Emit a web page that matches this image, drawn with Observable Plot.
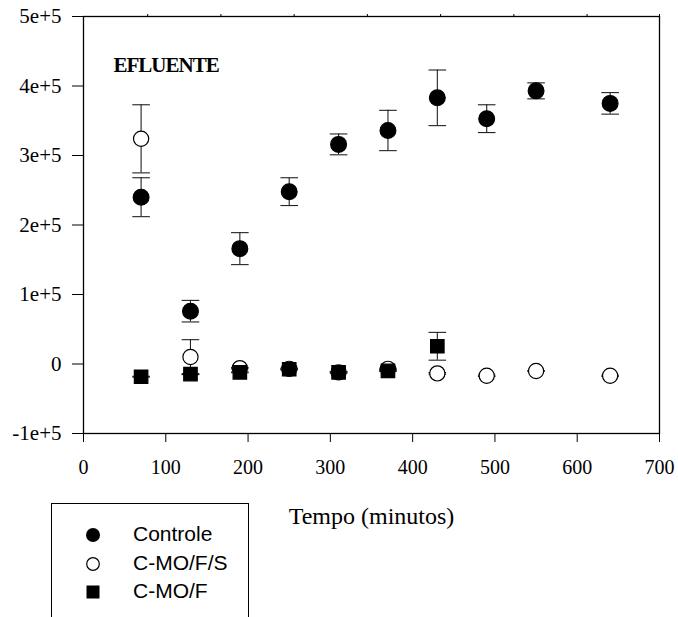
<!DOCTYPE html>
<html>
<head>
<meta charset="utf-8">
<script src="https://cdn.jsdelivr.net/npm/d3@7"></script>
<script src="https://cdn.jsdelivr.net/npm/@observablehq/plot@0.6"></script>
<style>
  html, body { margin: 0; padding: 0; background: #fff; overflow: hidden; }
  #wrap { position: relative; width: 678px; height: 617px; }
  #legend { position: absolute; left: 51px; top: 503px; width: 196px; height: 140px;
            border: 1.3px solid #000; border-bottom: none; background: #fff; }
  #legend .row { position: absolute; left: 0; height: 20px; }
  #legend svg { position: absolute; left: 31px; top: 0; }
  #legend span { position: absolute; left: 81px; top: -3px; font-family: "Liberation Sans", Arial, sans-serif;
                 font-size: 21px; white-space: nowrap; color: #000; }
</style>
</head>
<body>
<div id="wrap"></div>
<script>
// ---- data ----
const times = [70, 130, 190, 250, 310, 370, 430, 490, 550, 640];

const controle    = [2.40e5, 0.76e5, 1.66e5, 2.48e5, 3.16e5, 3.36e5, 3.83e5, 3.53e5, 3.93e5, 3.75e5];
const controleErr = [0.28e5, 0.155e5, 0.23e5, 0.20e5, 0.15e5, 0.29e5, 0.40e5, 0.20e5, 0.115e5, 0.155e5];

const cmofs    = [3.24e5, 0.10e5, -0.06e5, -0.07e5, -0.12e5, -0.07e5, -0.135e5, -0.17e5, -0.10e5, -0.17e5];
const cmofsErr = [0.49e5, 0.25e5, 0.01e5, 0.01e5, 0.01e5, 0.01e5, 0.012e5, 0.01e5, 0.005e5, 0.01e5];

const cmofTimes = [70, 130, 190, 250, 310, 370, 430];
const cmof      = [-0.183e5, -0.145e5, -0.12e5, -0.075e5, -0.12e5, -0.10e5, 0.255e5];
const cmofErr   = [0.006e5, 0.008e5, 0.006e5, 0.008e5, 0.008e5, 0.008e5, 0.20e5];

const seriesNames = ["Controle", "C-MO/F/S", "C-MO/F"];

const xTicks = [0, 100, 200, 300, 400, 500, 600, 700];
const yTicks = [-1e5, 0, 1e5, 2e5, 3e5, 4e5, 5e5];
const yTickLabels = ["-1e+5", "0", "1e+5", "2e+5", "3e+5", "4e+5", "5e+5"];
const topTicks = [78, 167, 256, 345, 434, 523, 612, 700];
const xLabel = "Tempo (minutos)";
const panelLabel = "EFLUENTE";

// ---- build tables ----
function rows(ts, vs, es) { return ts.map((t, i) => ({t, v: vs[i], e: es[i]})); }
const series = [
  {name: seriesNames[0], data: rows(times, controle, controleErr), symbol: "circle", fill: "#000", r: 7.9},
  {name: seriesNames[1], data: rows(times, cmofs, cmofsErr), symbol: "circle", fill: "#fff", r: 7.6},
  {name: seriesNames[2], data: rows(cmofTimes, cmof, cmofErr), symbol: "square", fill: "#000", r: 7.6}
];

const hline = {
  draw(ctx, size) { const w = Math.sqrt(size / Math.PI); ctx.moveTo(-w, 0); ctx.lineTo(w, 0); }
};

const marks = [];
for (const s of series) {
  marks.push(Plot.ruleX(s.data, {x: "t", y1: d => d.v - d.e, y2: d => d.v + d.e, stroke: "#222", strokeWidth: 1.1}));
  marks.push(Plot.dot(s.data, {x: "t", y: d => d.v + d.e, symbol: hline, r: 8.8, stroke: "#222", strokeWidth: 1.1, fill: "none"}));
  marks.push(Plot.dot(s.data, {x: "t", y: d => d.v - d.e, symbol: hline, r: 8.8, stroke: "#222", strokeWidth: 1.1, fill: "none"}));
  marks.push(Plot.dot(s.data, {x: "t", y: "v", symbol: s.symbol, r: s.r, fill: s.fill, stroke: "#000", strokeWidth: 1.2}));
}

const chart = Plot.plot({
  width: 678,
  height: 617,
  marginLeft: 83,
  marginRight: 19,
  marginTop: 16,
  marginBottom: 184,
  style: {fontFamily: "'Liberation Serif', 'Times New Roman', serif", fontSize: "20px", color: "#000", background: "transparent", overflow: "visible"},
  x: {domain: [0, 700]},
  y: {domain: [-1e5, 5e5]},
  marks: [
    Plot.frame({stroke: "#000", strokeWidth: 1.3}),
    Plot.axisX({ticks: xTicks, tickSize: 9, tickPadding: 17, label: null, fontSize: 20, tickFormat: d => String(d)}),
    Plot.axisX({anchor: "top", ticks: topTicks, tickSize: 3, tickFormat: () => "", label: null}),
    Plot.axisY({ticks: yTicks, tickSize: 11, tickPadding: 11, label: null, fontSize: 21,
                tickFormat: d => yTickLabels[yTicks.indexOf(d)]}),
    ...marks,
    Plot.text([panelLabel], {frameAnchor: "top-left", dx: 30, dy: 49, textAnchor: "start", lineAnchor: "middle",
                             fontSize: 21, fontWeight: "bold", fill: "#000"}),
    Plot.text([xLabel], {frameAnchor: "bottom", dy: 83, textAnchor: "middle", lineAnchor: "middle",
                         fontSize: 24, fill: "#000"})
  ]
});

d3.select(chart).selectAll("text").filter(function() { return this.textContent === panelLabel; })
  .style("letter-spacing", "-1px");

const wrap = document.getElementById("wrap");
wrap.appendChild(chart);

// ---- legend ----
const legend = document.createElement("div");
legend.id = "legend";
const rowTops = [21, 50, 78];
series.forEach((s, i) => {
  const row = document.createElement("div");
  row.className = "row";
  row.style.top = rowTops[i] + "px";
  let sym;
  if (s.symbol === "square") sym = `<rect x="3.5" y="3.5" width="13" height="13" fill="#000"/>`;
  else if (s.fill === "#fff") sym = `<circle cx="10" cy="10" r="6.3" fill="#fff" stroke="#000" stroke-width="1.2"/>`;
  else sym = `<circle cx="10" cy="10" r="7" fill="#000"/>`;
  row.innerHTML = `<svg width="20" height="20">${sym}</svg><span>${s.name}</span>`;
  legend.appendChild(row);
});
wrap.appendChild(legend);
</script>
</body>
</html>
